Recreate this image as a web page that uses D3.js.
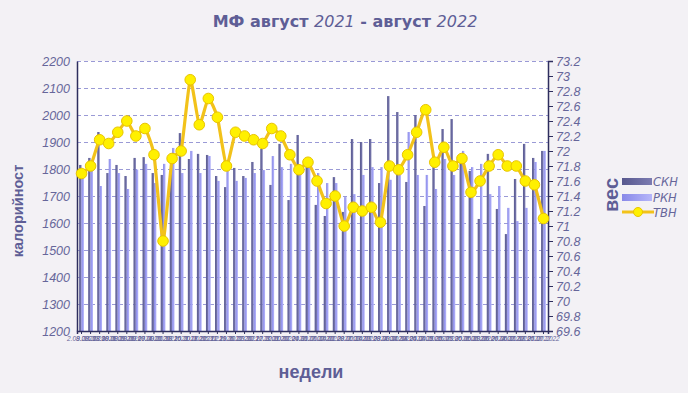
<!DOCTYPE html>
<html>
<head>
<meta charset="utf-8">
<script src="https://cdn.jsdelivr.net/npm/d3@7"></script>
<style>
  body { margin: 0; background: #f3f1f5; }
  svg { display: block; font-family: "DejaVu Sans", Verdana, sans-serif; }
</style>
</head>
<body>
<div id="chart"></div>
<script>
// weekly dates (x categories)
const weeks = ["2.08.2021","9.08.2021","16.08.2021","23.08.2021","30.08.2021",
  "6.09.2021","13.09.2021","20.09.2021","27.09.2021",
  "4.10.2021","11.10.2021","18.10.2021","25.10.2021",
  "1.11.2021","8.11.2021","15.11.2021","22.11.2021","29.11.2021",
  "6.12.2021","13.12.2021","20.12.2021","27.12.2021",
  "3.01.2022","10.01.2022","17.01.2022","24.01.2022","31.01.2022",
  "7.02.2022","14.02.2022","21.02.2022","28.02.2022",
  "7.03.2022","14.03.2022","21.03.2022","28.03.2022",
  "4.04.2022","11.04.2022","18.04.2022","25.04.2022",
  "2.05.2022","9.05.2022","16.05.2022","23.05.2022","30.05.2022",
  "6.06.2022","13.06.2022","20.06.2022","27.06.2022",
  "4.07.2022","11.07.2022","18.07.2022","25.07.2022"];

// СКН - dark bars
const skn = [1815,1841,1937,1785,1815,1774,1841,1844,1785,1778,1790,1933,1837,1856,1852,1774,1733,1804,1774,1826,
  1874,1741,1893,1685,1926,1807,1667,1626,1770,1641,1911,1900,1911,1748,2070,2011,1752,2000,1663,1807,
  1948,1985,1822,1793,1615,1856,1652,1559,1763,1893,1841,1867];
// РКН - light bars
const rkn = [1780,1800,1737,1837,1785,1726,1798,1819,1748,1819,1878,1785,1867,1785,1848,1756,1793,1756,1767,1785,
  1796,1848,1807,1819,1796,1807,1785,1748,1748,1696,1707,1778,1807,1807,1760,1778,1937,1778,1778,1726,
  1837,1778,1867,1807,1819,1707,1737,1656,1607,1656,1826,1867];
// ТВН - weight line
const tvn = [71.7,71.8,72.15,72.1,72.25,72.4,72.2,72.3,71.95,70.8,71.9,72.0,72.95,72.35,72.7,72.45,71.8,72.25,72.2,72.15,
  72.1,72.3,72.2,71.95,71.75,71.85,71.6,71.3,71.4,71.0,71.25,71.2,71.25,71.05,71.8,71.75,71.95,72.25,72.55,71.85,
  72.05,71.8,71.9,71.45,71.6,71.8,71.95,71.8,71.8,71.6,71.55,71.1];

const leftTicks = [1200,1300,1400,1500,1600,1700,1800,1900,2000,2100,2200];
const rightTicks = [69.6,69.8,70,70.2,70.4,70.6,70.8,71,71.2,71.4,71.6,71.8,72,72.2,72.4,72.6,72.8,73,73.2];
const seriesNames = ["СКН", "РКН", "ТВН"];

const w = 688, h = 393;
const padL = 77, padR = 548, padT = 61, padB = 331;
const txt = "#66669a";

const svg = d3.select("#chart").append("svg").attr("width", w).attr("height", h);

// gradients for bars
const defs = svg.append("defs");
function grad(id, c1, c2) {
  const g = defs.append("linearGradient").attr("id", id)
    .attr("x1", "0%").attr("x2", "100%").attr("y1", "0%").attr("y2", "0%");
  g.append("stop").attr("offset", "0%").attr("stop-color", c1);
  g.append("stop").attr("offset", "100%").attr("stop-color", c2);
}
grad("gDark", "#58588e", "#7c7cb2");
grad("gLight", "#8888e8", "#b6b6fa");

svg.append("rect").attr("x", 0).attr("y", 0).attr("width", w).attr("height", h).attr("fill", "#f3f1f5");
svg.append("rect").attr("x", padL).attr("y", padT).attr("width", padR - padL).attr("height", padB - padT).attr("fill", "#ffffff");

const x = d3.scaleBand().domain(weeks).range([padL, padR]);
const x1 = d3.scaleBand().domain(["skn", "rkn"]).range([0, x.bandwidth()]).paddingOuter(0.9);
const yL = d3.scaleLinear().domain([1200, 2200]).range([padB, padT]);
const yR = d3.scaleLinear().domain([69.6, 73.2]).range([padB, padT]);

// grid
svg.append("g").selectAll("line").data(leftTicks.slice(1)).join("line")
  .attr("x1", padL).attr("x2", padR)
  .attr("y1", d => yL(d) + 0.5).attr("y2", d => yL(d) + 0.5)
  .attr("stroke", "#9a9ad6").attr("stroke-dasharray", "4,3").attr("stroke-width", 1);

// bars
const bars = svg.append("g");
bars.selectAll(".skn").data(skn).join("rect").attr("class", "skn")
  .attr("x", (d, i) => x(weeks[i]) + x1("skn"))
  .attr("width", x1.bandwidth())
  .attr("y", d => yL(d)).attr("height", d => padB - yL(d))
  .attr("fill", "url(#gDark)");
bars.selectAll(".rkn").data(rkn).join("rect").attr("class", "rkn")
  .attr("x", (d, i) => x(weeks[i]) + x1("rkn"))
  .attr("width", x1.bandwidth())
  .attr("y", d => yL(d)).attr("height", d => padB - yL(d))
  .attr("fill", "url(#gLight)");

// axes
const yAxisL = d3.axisLeft(yL).tickValues(leftTicks).tickSize(0).tickPadding(7).tickFormat(d3.format("d"));
const gL = svg.append("g").attr("transform", "translate(" + padL + ",0)").call(yAxisL);
gL.select(".domain").attr("stroke", "#2e2e5e").attr("stroke-width", 1.5);
gL.selectAll("text").attr("fill", txt).attr("font-size", 12.5).attr("font-style", "italic");

const yAxisR = d3.axisRight(yR).tickValues(rightTicks).tickSize(5).tickPadding(3).tickFormat(d => String(+d.toFixed(1)));
const gR = svg.append("g").attr("transform", "translate(" + padR + ",0)").call(yAxisR);
gR.select(".domain").attr("stroke", "#2e2e5e").attr("stroke-width", 1.5);
gR.selectAll("line").attr("stroke", "#2e2e5e");
gR.selectAll("text").attr("fill", txt).attr("font-size", 12.5).attr("font-style", "italic");

const xAxis = d3.axisBottom(x).tickSize(3).tickPadding(2);
const gX = svg.append("g").attr("transform", "translate(0," + padB + ")").call(xAxis);
gX.select(".domain").attr("stroke", "#2e2e5e").attr("stroke-width", 1.5);
gX.selectAll("line").attr("stroke", "#2e2e5e");
gX.selectAll("text").attr("fill", txt).attr("font-size", 6.5).attr("font-style", "italic");

// weight line
const line = d3.line().x((d, i) => x(weeks[i]) + x.bandwidth() / 2).y(d => yR(d)).curve(d3.curveCardinal.tension(0.5));
svg.append("path").datum(tvn).attr("d", line)
  .attr("fill", "none").attr("stroke", "#f2c21a").attr("stroke-width", 3.2);
svg.append("g").selectAll("circle").data(tvn).join("circle")
  .attr("cx", (d, i) => x(weeks[i]) + x.bandwidth() / 2)
  .attr("cy", d => yR(d)).attr("r", 5.3)
  .attr("fill", "#fff000").attr("stroke", "#e8c400").attr("stroke-width", 1);

// title
const title = svg.append("text").attr("x", 345).attr("y", 27).attr("text-anchor", "middle")
  .attr("fill", "#5e5e96").attr("font-size", 16).attr("font-weight", "bold");
title.append("tspan").text("МФ август ");
title.append("tspan").text("2021").attr("font-style", "italic").attr("font-weight", "normal");
title.append("tspan").text(" - август ");
title.append("tspan").text("2022").attr("font-style", "italic").attr("font-weight", "normal");

// axis titles
svg.append("text").attr("transform", "translate(23,211) rotate(-90)")
  .attr("text-anchor", "middle").attr("fill", "#5e5e96").attr("font-size", 14.5).attr("font-weight", "bold")
  .attr("font-family", "'Liberation Sans', Arial, sans-serif")
  .text("калорийност");
svg.append("text").attr("transform", "translate(618,195) rotate(-90)")
  .attr("text-anchor", "middle").attr("fill", "#5e5e96").attr("font-size", 20).attr("font-weight", "bold")
  .attr("font-family", "'Liberation Sans', Arial, sans-serif")
  .text("вес");
svg.append("text").attr("x", 311).attr("y", 378).attr("text-anchor", "middle")
  .attr("fill", "#5e5e96").attr("font-size", 18).attr("font-weight", "bold")
  .attr("font-family", "'Liberation Sans', Arial, sans-serif")
  .text("недели");

// legend
const lg = svg.append("g").attr("transform", "translate(622,0)");
lg.append("rect").attr("x", 0).attr("y", 178).attr("width", 30).attr("height", 7).attr("fill", "url(#gDark)");
lg.append("rect").attr("x", 0).attr("y", 194).attr("width", 30).attr("height", 7).attr("fill", "url(#gLight)");
lg.append("line").attr("x1", 0).attr("x2", 32).attr("y1", 212).attr("y2", 212).attr("stroke", "#f2c21a").attr("stroke-width", 3);
lg.append("circle").attr("cx", 16).attr("cy", 212).attr("r", 4.5).attr("fill", "#fff000").attr("stroke", "#e8c400");
lg.selectAll(".lt").data(seriesNames).join("text").attr("class", "lt")
  .attr("x", 31)
  .attr("y", (d, i) => 186 + i * 15.5)
  .attr("fill", txt).attr("font-size", 11.5).attr("font-style", "italic")
  .text(d => d);
</script>
</body>
</html>
